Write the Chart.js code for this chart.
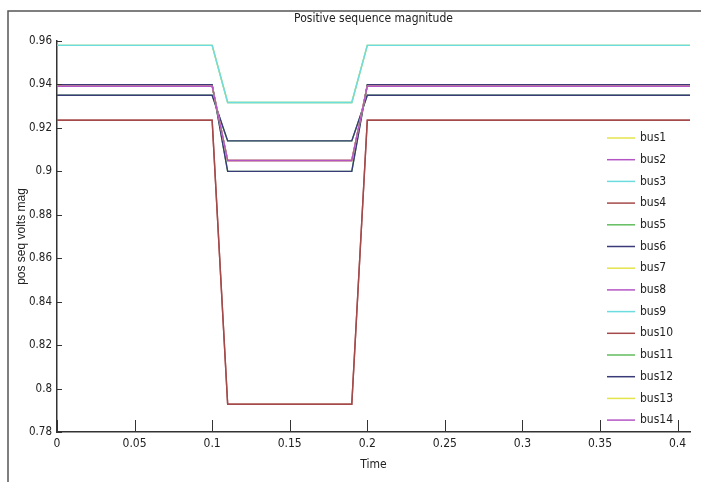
<!DOCTYPE html>
<html>
<head>
<meta charset="utf-8">
<script src="https://cdn.jsdelivr.net/npm/chart.js@4/dist/chart.umd.min.js"></script>
<style>
  html, body { margin: 0; padding: 0; background: #fff; }
  #wrap { width: 701px; height: 482px; position: relative; }
</style>
</head>
<body>
<div id="wrap"><canvas id="myChart" width="701" height="482"></canvas></div>
<script>
const time = [0, 0.1, 0.11, 0.19, 0.2, 0.408];

const busNames = ['bus1', 'bus2', 'bus3', 'bus4', 'bus5', 'bus6', 'bus7',
  'bus8', 'bus9', 'bus10', 'bus11', 'bus12', 'bus13', 'bus14'];

// pos seq voltage of each bus at the time points above
const bus1 = [0.9395, 0.9395, 0.905, 0.905, 0.9395, 0.9395];
const bus2 = [0.9394, 0.9394, 0.905, 0.905, 0.9394, 0.9394];
const bus3 = [0.958, 0.958, 0.9317, 0.9317, 0.958, 0.958];
const bus4 = [0.9235, 0.9235, 0.7928, 0.7928, 0.9235, 0.9235];
const bus5 = [0.935, 0.935, 0.914, 0.914, 0.935, 0.935];
const bus6 = [0.935, 0.935, 0.914, 0.914, 0.935, 0.935];
const bus7 = [0.958, 0.958, 0.9317, 0.9317, 0.958, 0.958];
const bus8 = [0.9394, 0.9394, 0.905, 0.905, 0.9394, 0.9394];
const bus9 = [0.958, 0.958, 0.9317, 0.9317, 0.958, 0.958];
const bus10 = [0.9235, 0.9235, 0.7928, 0.7928, 0.9235, 0.9235];
const bus11 = [0.9399, 0.9399, 0.9, 0.9, 0.9399, 0.9399];
const bus12 = [0.9399, 0.9399, 0.9, 0.9, 0.9399, 0.9399];
const bus13 = [0.9392, 0.9392, 0.905, 0.905, 0.9392, 0.9392];
const bus14 = [0.9392, 0.9392, 0.905, 0.905, 0.9392, 0.9392];

const busValues = [bus1, bus2, bus3, bus4, bus5, bus6, bus7, bus8, bus9, bus10, bus11, bus12, bus13, bus14];

const xTicks = [0, 0.05, 0.1, 0.15, 0.2, 0.25, 0.3, 0.35, 0.4];
const yTicks = [0.78, 0.8, 0.82, 0.84, 0.86, 0.88, 0.9, 0.92, 0.94, 0.96];

// matlab colour cycle
const cycle = ['#e4e44c', '#b455c4', '#6cdcdf', '#a54a4a', '#62bd5e', '#3a3a78'];

const narrow = "'DejaVu Sans Condensed', 'Liberation Sans', sans-serif";

const datasets = busNames.map((name, i) => ({
  label: name,
  data: time.map((t, k) => ({ x: t, y: busValues[i][k] })),
  borderColor: cycle[i % 6],
  backgroundColor: cycle[i % 6],
  borderWidth: 1.4,
  pointRadius: 0,
  tension: 0,
  order: -i   // later buses on top, like matlab
}));

// frame, inward tick marks and the legend
const extras = {
  id: 'extras',
  beforeDraw(chart) {
    const ctx = chart.ctx;
    ctx.save();
    ctx.strokeStyle = '#555';
    ctx.lineWidth = 1.5;
    ctx.beginPath();
    ctx.moveTo(8, 482);
    ctx.lineTo(8, 11);
    ctx.lineTo(701, 11);
    ctx.stroke();
    ctx.restore();
  },
  afterDraw(chart) {
    const ctx = chart.ctx;
    const area = chart.chartArea;
    const xs = chart.scales.x, ys = chart.scales.y;
    ctx.save();
    ctx.strokeStyle = '#333';
    ctx.lineWidth = 1;
    ctx.beginPath();
    xTicks.forEach(v => {
      const px = Math.round(xs.getPixelForValue(v)) + 0.5;
      ctx.moveTo(px, area.bottom);
      ctx.lineTo(px, area.bottom - 12);
    });
    yTicks.forEach(v => {
      const py = Math.round(ys.getPixelForValue(v)) + 0.5;
      ctx.moveTo(area.left, py);
      ctx.lineTo(area.left + 5, py);
    });
    ctx.stroke();

    // legend
    const lx = area.right - 83;
    const ly = 138;
    ctx.font = '12px ' + narrow;
    ctx.textBaseline = 'middle';
    ctx.fillStyle = '#222';
    chart.data.datasets.forEach((ds, i) => {
      const y = ly + i * 21.7;
      ctx.strokeStyle = ds.borderColor;
      ctx.lineWidth = 1.5;
      ctx.beginPath();
      ctx.moveTo(lx, y);
      ctx.lineTo(lx + 28, y);
      ctx.stroke();
      ctx.fillText(ds.label, lx + 33, y);
    });
    ctx.restore();
  }
};

const ctx = document.getElementById('myChart').getContext('2d');

new Chart(ctx, {
  type: 'line',
  data: { datasets: datasets },
  options: {
    responsive: false,
    animation: false,
    layout: { padding: { left: 0, right: 11, top: 0, bottom: 0 } },
    plugins: {
      legend: { display: false },
      tooltip: { enabled: false },
      title: {
        display: true,
        fullSize: false,
        text: 'Positive sequence magnitude',
        color: '#222',
        font: { family: narrow, size: 12, weight: 'normal' },
        padding: { top: 12, bottom: 14.6 }
      }
    },
    scales: {
      x: {
        type: 'linear',
        min: 0,
        max: 0.408,
        afterFit(s) { s.height = 50; },
        afterBuildTicks(s) { s.ticks = xTicks.map(v => ({ value: v })); },
        grid: { display: true, drawOnChartArea: false, drawTicks: false },
        border: { display: true, color: '#333', width: 1.5 },
        ticks: {
          color: '#222',
          padding: 5,
          maxRotation: 0,
          font: { family: narrow, size: 12 },
          callback: v => String(+v.toFixed(3))
        },
        title: {
          display: true,
          text: 'Time',
          color: '#222',
          font: { family: narrow, size: 12 },
          padding: { top: 0, bottom: 10 }
        }
      },
      y: {
        min: 0.78,
        max: 0.96,
        afterFit(s) { s.width = 57; },
        afterBuildTicks(s) { s.ticks = yTicks.map(v => ({ value: v })); },
        grid: { display: true, drawOnChartArea: false, drawTicks: false },
        border: { display: true, color: '#333', width: 1.5 },
        ticks: {
          color: '#222',
          padding: 5,
          font: { family: narrow, size: 11.5 },
          callback: v => String(+v.toFixed(3))
        },
        title: {
          display: true,
          text: 'pos seq volts mag',
          color: '#222',
          font: { family: "'Liberation Sans', Arial, sans-serif", size: 12 },
          padding: { top: 14, bottom: 0 }
        }
      }
    }
  },
  plugins: [extras]
});
</script>
</body>
</html>
